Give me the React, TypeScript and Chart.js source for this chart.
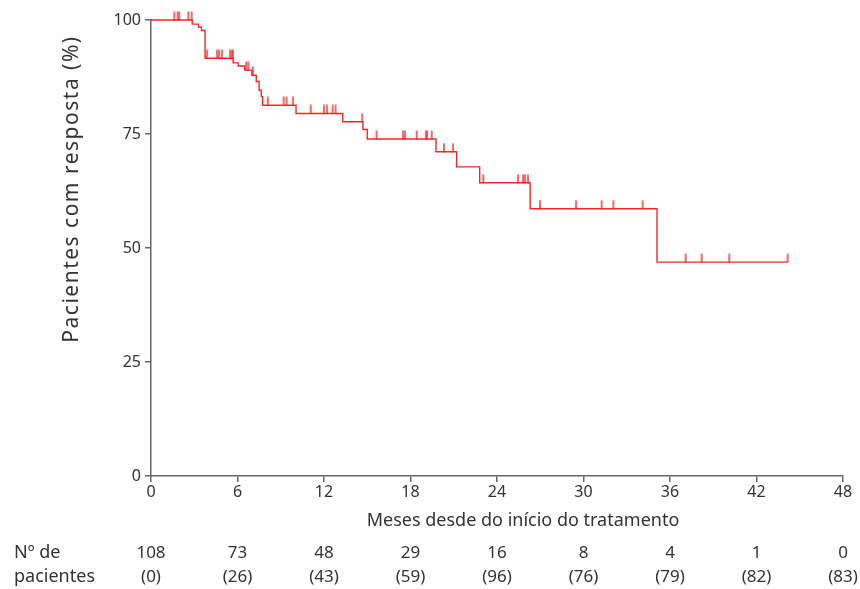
import React, { useEffect, useRef } from "react";
import { Chart, registerables } from "chart.js";

Chart.register(...registerables);

// Kaplan-Meier steps: month at which the curve drops, and survival (%) from then on
const stepMonths = [0, 2.86, 3.3, 3.5, 3.75, 5.7, 6.05, 6.5, 7.0, 7.3, 7.5, 7.65, 7.75, 10.06, 13.3, 14.7, 15.0, 19.77, 21.2, 22.8, 26.3, 35.1];
const stepSurvival = [100, 99.1, 98.4, 97.7, 91.6, 90.6, 89.9, 89.0, 87.9, 86.5, 84.6, 83.2, 81.3, 79.5, 77.7, 76.0, 73.9, 71.1, 67.8, 64.3, 58.6, 46.9];
const lastFollowUp = 44.16;

// Censored observations (months)
const censorMonths = [
  1.62, 1.85, 1.96, 2.59, 2.82, 3.88, 4.58, 4.72, 4.92, 5.48, 5.6, 5.69, 6.6, 6.75, 7.07,
  8.1, 9.2, 9.4, 9.85, 11.08, 12.0, 12.2, 12.6, 12.8, 14.65, 15.65, 17.48, 17.62, 18.43,
  19.07, 19.15, 19.47, 20.32, 20.95, 23.05, 25.46, 25.8, 25.94, 26.15, 26.98, 29.48, 31.26,
  32.07, 34.1, 37.09, 38.2, 40.11, 44.16,
];

// Number-at-risk table
const riskMonths = [0, 6, 12, 18, 24, 30, 36, 42, 48];
const atRisk = [108, 73, 48, 29, 16, 8, 4, 1, 0];
const eventsCount = [0, 26, 43, 59, 96, 76, 79, 82, 83];

const xTicks = [0, 6, 12, 18, 24, 30, 36, 42, 48];
const yTicks = [0, 25, 50, 75, 100];

const xTitle = "Meses desde do início do tratamento";
const yTitle = "Pacientes com resposta (%)";
const riskLabel1 = "Nº de";
const riskLabel2 = "pacientes";

const RED = "#f02828";
const AXIS = "#666666";
const TEXT = "#333333";
const FONT = "'Noto Sans', sans-serif";

export default function App() {
  const ref = useRef<HTMLCanvasElement>(null);

  useEffect(() => {
    const canvas = ref.current;
    if (!canvas) return;

    const curve = stepMonths.map((m, i) => ({ x: m, y: stepSurvival[i] }));
    curve.push({ x: lastFollowUp, y: stepSurvival[stepSurvival.length - 1] });

    const survAt = (t: number) => {
      let s = stepSurvival[0];
      for (let i = 0; i < stepMonths.length; i++) if (stepMonths[i] <= t) s = stepSurvival[i];
      return s;
    };
    const censor = censorMonths.map((t) => ({ x: t, y: survAt(t) }));

    const mark = document.createElement("canvas");
    mark.width = 4;
    mark.height = 18;
    const mctx = mark.getContext("2d")!;
    mctx.strokeStyle = RED;
    mctx.lineWidth = 1.4;
    mctx.beginPath();
    mctx.moveTo(2, 0.5);
    mctx.lineTo(2, 9.5);
    mctx.stroke();

    const textPlugin = {
      id: "texts",
      afterDraw(chart: any) {
        const { ctx } = chart;
        const xs = chart.scales.x;
        ctx.save();
        ctx.fillStyle = TEXT;
        ctx.textBaseline = "middle";
        ctx.textAlign = "center";
        ctx.font = `18px ${FONT}`;
        ctx.fillText(xTitle, 523, 521);
        ctx.font = `17px ${FONT}`;
        riskMonths.forEach((m, i) => {
          const px = xs.getPixelForValue(m);
          ctx.fillText(String(atRisk[i]), px, 553);
          ctx.fillText(`(${eventsCount[i]})`, px, 577);
        });
        ctx.textAlign = "left";
        ctx.font = `18px ${FONT}`;
        ctx.fillText(riskLabel1, 14, 553);
        ctx.fillText(riskLabel2, 14, 577);
        ctx.translate(72, 189);
        ctx.rotate(-Math.PI / 2);
        ctx.textAlign = "center";
        ctx.font = `21px ${FONT}`;
        try {
          (ctx as any).letterSpacing = "1.5px";
        } catch (e) {}
        ctx.fillText(yTitle, 0, 0);
        ctx.restore();
      },
    };

    const chart = new Chart(canvas, {
      type: "line",
      data: {
        datasets: [
          {
            data: curve,
            stepped: true,
            borderColor: RED,
            borderWidth: 1.4,
            pointRadius: 0,
            fill: false,
            clip: false as any,
          },
          {
            type: "scatter" as any,
            data: censor,
            showLine: false,
            pointStyle: mark as any,
            pointRadius: 3,
            clip: false as any,
          } as any,
        ],
      },
      options: {
        responsive: false,
        animation: false,
        events: [],
        layout: { padding: { left: 51, top: 20, right: 17, bottom: 53 } },
        plugins: { legend: { display: false }, tooltip: { enabled: false } },
        scales: {
          x: {
            type: "linear",
            min: 0,
            max: 48,
            afterBuildTicks: (s: any) => {
              s.ticks = xTicks.map((v) => ({ value: v }));
            },
            afterFit: (s: any) => {
              s.height = 60;
            },
            ticks: { color: TEXT, font: { family: FONT, size: 16 }, padding: 1, maxRotation: 0 },
            grid: { display: true, drawOnChartArea: false, drawTicks: true, tickLength: 6, color: AXIS, lineWidth: 1.5 },
            border: { display: true, color: AXIS, width: 1.5 },
          },
          y: {
            type: "linear",
            min: 0,
            max: 100,
            afterBuildTicks: (s: any) => {
              s.ticks = yTicks.map((v) => ({ value: v }));
            },
            afterFit: (s: any) => {
              s.width = 100;
            },
            ticks: { color: TEXT, font: { family: FONT, size: 16 }, padding: 4 },
            grid: { display: true, drawOnChartArea: false, drawTicks: true, tickLength: 6, color: AXIS, lineWidth: 1.5 },
            border: { display: true, color: AXIS, width: 1.5 },
          },
        },
      },
      plugins: [textPlugin],
    });

    return () => chart.destroy();
  }, []);

  return (
    <div style={{ position: "absolute", left: 0, top: 0, width: 860, height: 589, background: "#fff" }}>
      <canvas ref={ref} width={860} height={589} style={{ display: "block" }} />
    </div>
  );
}
